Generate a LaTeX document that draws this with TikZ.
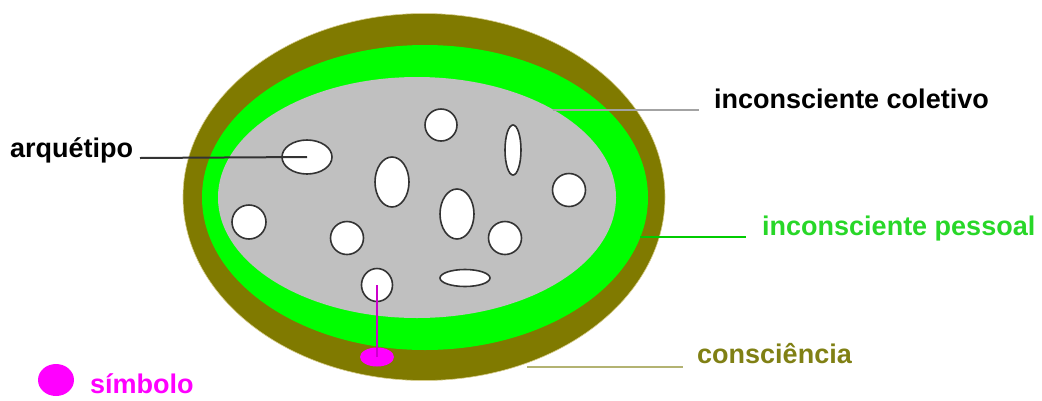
\documentclass[tikz,border=0pt]{standalone}
\usepackage{fontspec}
\setmainfont{Liberation Sans}
\usepackage{xcolor}
\usetikzlibrary{positioning, shapes.geometric}

\definecolor{olivebrown}{RGB}{128,122,0}
\definecolor{brightgreen}{RGB}{0,255,0}
\definecolor{lightgray}{RGB}{192,192,192}
\definecolor{pinksym}{RGB}{255,0,255}
\definecolor{greentext}{RGB}{40,215,40}
\definecolor{olivetext}{RGB}{128,128,20}

\begin{document}
\begin{tikzpicture}[
    x=1pt, y=-1pt,
    layer/.style={
        ellipse,
        inner sep=0pt
    },
    hole/.style={
        ellipse,
        draw=black!80,
        line width=1.6pt,
        fill=white,
        inner sep=0pt
    },
    label/.style={
        anchor=base west,
        inner sep=0pt,
        font=\fontsize{27}{31}\selectfont\bfseries
    },
    lead/.style={
        line width=2pt
    }
]
\useasboundingbox (0,0) rectangle (1042,400);

% Main layers
\node[layer, fill=olivebrown, draw={rgb,255:red,215;green,205;blue,140}, line width=0.6pt,
      minimum width=482, minimum height=367] (consc) at (424,197) {};
\node[layer, fill=brightgreen, minimum width=446, minimum height=305] (pessoal) at (425,197.5) {};
\node[layer, fill=lightgray, minimum width=398, minimum height=241] (coletivo) at (417,197.5) {};

% Archetypes
\node[hole, minimum width=32, minimum height=32] (h1) at (441,125) {};
\node[hole, minimum width=16, minimum height=50] (h2) at (513,150) {};
\node[hole, minimum width=50, minimum height=34] (arq) at (307,157) {};
\node[hole, minimum width=34, minimum height=50] (h4) at (392,182) {};
\node[hole, minimum width=33, minimum height=33] (h5) at (569,190) {};
\node[hole, minimum width=34, minimum height=34] (h6) at (249,222) {};
\node[hole, minimum width=34, minimum height=50] (h7) at (457,214) {};
\node[hole, minimum width=33, minimum height=33] (h8) at (347,238) {};
\node[hole, minimum width=33, minimum height=33] (h9) at (505,238) {};
\node[hole, minimum width=50, minimum height=17] (h10) at (465,278) {};
\node[hole, minimum width=31, minimum height=33] (h11) at (377,285) {};

% Symbol
\node[layer, fill=pinksym, minimum width=34, minimum height=19] (sym) at (377,357) {};
\draw[pinksym!80!black, line width=1.5pt] (h11.center) -- (sym.center);

% Labels
\node[label, text=black] (t-arq) at (10,157) {arquétipo};
\node[label, text=black] (t-col) at (714,108) {inconsciente coletivo};
\node[label, text=greentext] (t-pes) at (762,235) {inconsciente pessoal};
\node[label, text=olivetext] (t-con) at (697,363) {consciência};
\node[layer, fill=pinksym, minimum width=36, minimum height=32] (leg) at (56,380) {};
\node[label, text=pinksym] (t-sym) at (90,393) {símbolo};

% Leader lines
\coordinate (c-arq) at (140,158);
\coordinate (c-col) at (553,110);
\coordinate (e-col) at (699,110);
\coordinate (c-pes) at (640,237);
\coordinate (e-pes) at (746,237);
\coordinate (c-con) at (527,367);
\coordinate (e-con) at (683,367);

\draw[lead, black!80] (c-arq) -- (arq.center);
\draw[lead, lightgray!85!black] (c-col) -- (e-col);
\draw[lead, brightgreen!80!black] (c-pes) -- (e-pes);
\draw[lead, olivetext!60!white] (c-con) -- (e-con);

\end{tikzpicture}
\end{document}
